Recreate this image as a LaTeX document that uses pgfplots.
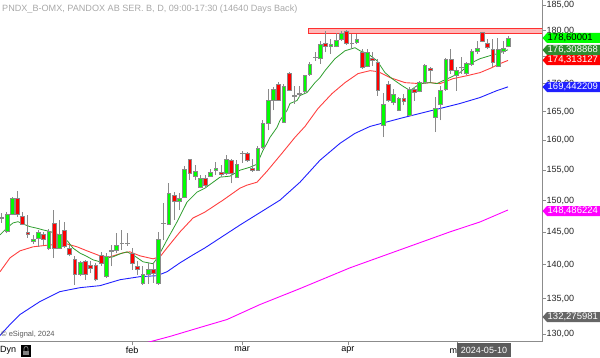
\documentclass[border=0pt]{standalone}
\usepackage{pgfplots}
\pgfplotsset{compat=1.18}
\usepackage{pgfplotstable}
\usepackage{fontspec}
\setmainfont{Liberation Sans}
\definecolor{cgreen}{HTML}{00FF00}
\definecolor{cred}{HTML}{FF0000}
\definecolor{wick}{HTML}{8A8A8A}
\definecolor{magreen}{HTML}{2E9E2E}
\definecolor{mared}{HTML}{FF4040}
\definecolor{mablue}{HTML}{2020FF}
\definecolor{mamag}{HTML}{FF00FF}
\definecolor{axgray}{HTML}{8C8C8C}
\definecolor{resfill}{HTML}{FFB8B8}
\definecolor{resline}{HTML}{FF3030}
\definecolor{tagdkgreen}{HTML}{2E8B2E}
\definecolor{taggray}{HTML}{666666}
\definecolor{titlegray}{HTML}{A8A8A8}
\newcommand\tickfont{\fontsize{9}{10}\selectfont}
\newcommand\tagfont{\fontsize{9.5}{10}\selectfont}

\pgfplotstableread{
i O H L C
0 147.30 148.01 146.43 147.25
1 145.09 148.21 144.84 147.80
2 147.80 150.60 147.69 150.34
3 150.34 151.52 147.42 147.80
4 147.42 148.21 146.12 146.23
5 145.00 147.69 144.06 144.69
6 143.54 144.58 143.14 143.96
7 144.06 145.35 142.77 144.99
8 144.73 145.09 143.03 143.96
9 142.53 145.50 142.27 145.19
10 146.38 148.48 141.02 142.53
11 142.53 146.90 142.42 144.69
12 145.35 146.64 142.53 142.77
13 142.53 143.03 141.26 141.62
14 140.91 141.26 137.06 138.63
15 138.63 140.51 138.27 140.42
16 140.51 140.76 137.79 138.63
17 140.01 140.51 138.78 139.52
18 139.91 140.27 137.54 137.79
19 141.51 141.97 139.86 140.27
20 138.27 141.77 138.03 141.26
21 142.01 143.03 139.77 142.27
22 142.16 144.84 141.77 143.03
23 143.35 145.35 142.27 143.25
24 143.32 144.93 142.88 143.28
25 141.77 142.53 139.27 140.27
26 139.77 140.51 138.53 139.37
27 137.21 139.77 137.06 138.53
28 138.67 140.27 137.21 139.37
29 139.27 140.36 137.31 138.78
30 137.21 145.09 137.06 143.96
31 146.40 149.54 143.80 146.35
32 146.28 152.77 146.12 151.15
33 150.88 151.41 146.90 149.80
34 149.80 151.15 148.48 150.44
35 150.60 155.62 150.50 155.08
36 156.74 156.90 153.31 154.41
37 153.97 155.79 153.31 154.84
38 152.22 154.13 151.96 153.59
39 153.59 154.13 152.00 152.41
40 154.02 155.08 153.85 154.68
41 154.96 156.34 154.13 155.24
42 154.68 155.79 153.85 154.30
43 154.41 157.45 154.13 156.74
44 156.62 156.90 152.77 154.51
45 153.75 156.62 153.59 155.95
46 157.85 158.18 156.17 157.80
47 157.85 158.00 156.34 156.62
48 155.35 156.90 154.68 154.96
49 154.96 158.98 154.84 158.69
50 158.76 163.45 158.59 162.98
51 162.98 169.07 161.72 167.10
52 166.98 169.36 165.21 168.95
53 169.85 170.27 166.98 167.10
54 163.16 169.98 162.98 169.49
55 171.99 172.10 168.77 168.89
56 167.85 169.67 166.39 167.80
57 168.05 169.67 167.56 168.35
58 168.59 171.68 168.32 171.49
59 171.80 173.95 171.49 173.52
60 174.90 175.81 174.27 174.85
61 174.77 178.03 173.67 177.40
62 177.52 179.94 175.81 176.89
63 176.89 178.35 175.52 177.40
64 176.94 179.61 176.75 178.22
65 178.35 179.94 178.03 179.42
66 179.80 180.07 177.27 177.52
67 177.55 179.30 176.45 177.50
68 177.71 179.30 177.40 178.35
69 175.81 176.45 172.73 173.02
70 173.15 176.45 173.02 175.94
71 174.77 175.81 173.34 174.27
72 173.95 174.58 167.87 168.77
73 162.58 168.28 160.57 166.39
74 169.85 170.58 166.68 166.98
75 166.68 169.07 166.09 168.05
76 165.21 167.69 165.09 167.46
77 167.46 168.17 166.09 166.86
78 164.33 169.36 164.15 169.07
79 168.95 169.36 166.98 168.47
80 168.64 170.45 168.47 170.27
81 170.27 173.67 169.98 173.34
82 172.91 173.15 170.27 172.41
83 164.03 167.56 161.42 165.51
84 166.39 169.67 163.45 168.89
85 169.07 174.77 168.77 174.58
86 174.58 176.45 171.80 172.41
87 171.49 173.02 168.77 172.41
88 173.05 174.88 171.80 173.00
89 171.91 173.95 171.68 173.77
90 173.67 176.45 173.34 176.00
91 176.00 178.03 175.52 176.64
92 179.61 179.80 177.71 177.90
93 177.52 178.35 176.45 176.75
94 176.45 178.35 173.02 173.95
95 173.15 178.66 173.02 176.45
96 176.00 177.90 175.52 176.64
97 176.89 178.98 176.75 178.60
}\candles

\pgfplotstableread{
i v
-0.33 144.58
1.01 145.66
2.16 146.43
3.12 146.63
4.08 146.27
5.42 145.85
6.76 145.61
7.91 145.35
9.25 145.09
10.59 144.69
11.74 144.32
12.69 143.54
13.65 142.53
14.99 141.77
16.33 141.26
17.48 140.76
18.82 140.46
20.16 141.06
21.31 141.21
22.65 141.66
23.99 141.97
25.14 141.51
27.05 140.46
28.97 140.17
29.93 141.21
31.65 143.80
33.56 146.59
35.48 149.75
37.39 151.36
38.92 152.01
41.80 153.80
43.71 153.97
45.63 154.96
47.54 155.45
48.88 155.95
50.03 158.30
50.79 159.49
51.37 160.52
52.71 162.24
53.28 163.45
54.62 165.21
55.20 166.45
56.54 166.98
57.11 167.87
58.45 168.41
59.98 170.22
60.94 171.13
61.90 172.41
63.81 174.64
65.73 176.13
67.64 176.70
68.60 176.13
70.13 175.57
71.86 174.27
73.39 172.04
74.73 170.94
76.64 169.67
78.18 168.77
80.09 170.04
82.01 170.22
83.35 170.04
84.49 170.58
85.83 171.13
87.75 172.04
89.66 173.71
91.58 174.64
93.49 175.20
94.83 175.57
96.94 176.31
}\maGreen

\pgfplotstableread{
i v
-0.33 138.97
1.59 141.06
3.50 142.12
5.99 142.73
9.25 143.03
12.50 143.18
14.42 142.73
16.33 142.12
18.82 141.36
20.73 141.21
23.22 141.82
24.56 141.97
26.48 141.36
28.97 140.91
30.31 141.21
31.65 142.58
34.14 145.04
36.63 147.22
38.92 148.16
42.37 150.07
45.63 152.01
46.96 152.49
48.88 152.98
50.79 154.79
53.66 157.80
56.15 160.52
58.07 162.41
60.56 165.56
63.24 168.23
65.73 170.22
68.22 171.87
70.52 172.41
72.05 172.23
74.35 171.13
77.22 170.22
80.09 170.04
82.01 170.22
83.92 170.04
86.41 170.94
89.09 171.49
91.58 172.04
93.87 172.97
95.41 173.71
96.94 174.31
}\maRed

\pgfplotstableread{
i v
-0.33 129.79
1.59 131.33
3.50 132.74
7.33 134.60
11.16 136.04
14.99 136.62
18.82 136.91
22.65 137.79
26.48 138.24
29.73 138.38
31.65 138.97
34.14 140.31
36.63 141.51
38.92 142.58
45.63 146.12
53.28 150.07
57.11 152.98
60.94 156.62
64.77 159.49
67.64 161.20
70.52 162.41
73.39 163.10
76.26 163.80
80.09 164.68
83.92 165.56
87.75 166.45
91.58 167.51
94.83 168.77
96.94 169.44
}\maBlue

\pgfplotstableread{
i v
26.48 128.55
32.22 129.66
37.97 130.91
43.14 132.03
49.45 134.17
57.11 136.48
66.69 139.56
76.26 142.27
85.83 145.04
91.58 146.59
96.94 148.49
}\maMag

\newcommand\valtag[4]{%
  \begin{scope}[yshift=#1pt]
  \fill[#2] (542.5pt,0pt) -- (547pt,5pt) -- (600pt,5pt) -- (600pt,-5pt) -- (547pt,-5pt) -- cycle;
  \node[anchor=west, inner sep=0pt, text=#3, font=\tagfont] at (547.5pt,0pt) {#4};
  \end{scope}
}

\begin{document}
\begin{tikzpicture}
\useasboundingbox (0pt,0pt) rectangle (600pt,357pt);
\begin{axis}[
  at={(0pt,15pt)}, anchor=south west,
  width=542pt, height=342pt, scale only axis,
  ymode=log,
  xmin=-0.33, xmax=103.45, ymin=128.89, ymax=186.0,
  axis x line*=bottom, axis y line*=right,
  axis line style={axgray, line width=0.9pt, -},
  no markers,
  ytick={130,135,140,145,150,155,160,165,170,175,180,185},
  yticklabels={{130,00},{135,00},{140,00},{145,00},{150,00},{155,00},{160,00},{165,00},{170,00},{175,00},{180,00},{185,00}},
  yminorticks=false, minor y tick num=0,
  xtick={24.95,46.01,66.3,87.17},
  xticklabels={feb,mar,apr,maj},
  tick align=outside,
  major tick length=3.5pt,
  tick style={axgray, line width=0.8pt},
  yticklabel style={font=\tickfont, text=black!85, anchor=west, inner sep=0pt, xshift=1pt},
  xticklabel style={font=\tickfont, text=black, anchor=north, inner sep=0pt, yshift=-1.5pt},
]
% resistance band
\addplot[fill=resfill, draw=resline, line width=0.8pt] coordinates {(58.8,179.36) (106,179.36) (106,180.32) (58.8,180.32)} -- cycle;
% moving averages
\addplot[mamag, line width=0.9pt] table[x=i,y=v]{\maMag};
\addplot[mablue, line width=0.9pt] table[x=i,y=v]{\maBlue};
\addplot[mared, line width=0.9pt] table[x=i,y=v]{\maRed};
\addplot[magreen, line width=0.8pt] table[x=i,y=v]{\maGreen};
% candles
\pgfplotsinvokeforeach{0,...,97}{%
  \pgfplotstablegetelem{#1}{O}\of\candles\let\vO\pgfplotsretval
  \pgfplotstablegetelem{#1}{H}\of\candles\let\vH\pgfplotsretval
  \pgfplotstablegetelem{#1}{L}\of\candles\let\vL\pgfplotsretval
  \pgfplotstablegetelem{#1}{C}\of\candles\let\vC\pgfplotsretval
  \pgfmathtruncatemacro\up{\vC>=\vO}%
  \ifnum\up=1 \def\bcol{cgreen}\else\def\bcol{cred}\fi
  \pgfmathsetmacro\xa{#1-0.36}%
  \pgfmathsetmacro\xb{#1+0.36}%
  \edef\tmp{\noexpand\addplot[wick, line width=0.9pt] coordinates {(#1,\vL) (#1,\vH)};
    \noexpand\addplot[fill=\bcol, draw=wick, line width=0.5pt] coordinates {(\xa,\vO) (\xb,\vO) (\xb,\vC) (\xa,\vC)} -- cycle;}%
  \tmp
}
\end{axis}
% value tags
\valtag{319}{cgreen}{black}{178,60001}
\valtag{307}{tagdkgreen}{white}{176,308868}
\valtag{296.8}{cred}{white}{174,313127}
\valtag{270}{mablue}{white}{169,442209}
\valtag{146}{mamag}{white}{148,486224}
\valtag{40}{taggray}{white}{132,275981}
% title and captions
\node[anchor=west, inner sep=0pt, text=titlegray, font=\fontsize{9.1}{10}\selectfont] at (2pt,348pt) {PNDX\_B-OMX, PANDOX AB SER. B, D, 09:00-17:30 (14640 Days Back)};
\node[anchor=west, inner sep=0pt, text=black!65, font=\fontsize{7.5}{9}\selectfont] at (1pt,22pt) {\textcopyright{} eSignal, 2024};
\node[anchor=west, inner sep=0pt, text=black, font=\fontsize{9}{10}\selectfont] at (0pt,7pt) {Dyn};
\fill[black] (21pt,0pt) rectangle (31pt,12pt);
\draw[gray, line width=0.8pt] (24pt,6pt) -- (24pt,8.5pt) arc (180:0:2pt) -- (28pt,6pt);
\fill[gray] (23pt,2pt) rectangle (29pt,6.2pt);
\fill[taggray!90!black] (457pt,0pt) rectangle (511pt,14pt);
\node[inner sep=0pt, text=white, font=\fontsize{9}{10}\selectfont] at (484pt,6.5pt) {2024-05-10};
\end{tikzpicture}
\end{document}
